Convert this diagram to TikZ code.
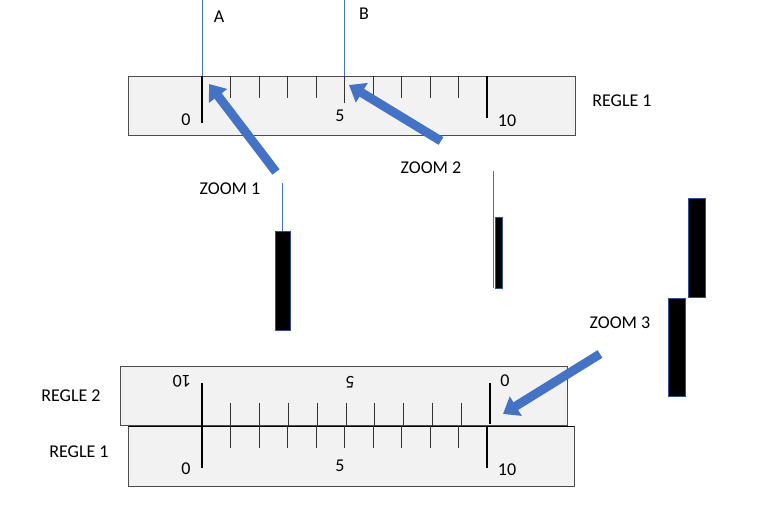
\documentclass[tikz,border=0pt]{standalone}
\usepackage{fontspec}
\setmainfont{Carlito}
\usetikzlibrary{arrows.meta}
\definecolor{zoomblue}{RGB}{68,114,196}
\definecolor{rulergray}{RGB}{242,242,242}
\definecolor{edgeblue}{RGB}{47,82,143}
\begin{document}
\begin{tikzpicture}[x=1pt,y=-1pt]
\tikzstyle{every node}+=[inner sep=0pt,font=\fontsize{18}{20}\selectfont]
\tikzset{ruler/.style={draw=black!70,fill=rulergray,line width=0.8pt},
  tick/.style={black!80,line width=0.8pt},
  major/.style={black,line width=1.8pt},
  hair/.style={zoomblue,line width=0.6pt},
  bar/.style={draw=edgeblue,fill=black,line width=0.8pt},
  zoomarrow/.style={line width=9pt,zoomblue,-{Triangle[width=22pt,length=15pt]}}}
\useasboundingbox (0,0) rectangle (780,516);
% regle 1 (haut)
\draw [ruler] (128,76) rectangle (575,135);
\draw [major] (202,76) -- (202,123);
\draw [major] (487,76) -- (487,118);
\foreach \i in {1,...,9}
  \draw [tick] (202+28.5*\i,76) -- (202+28.5*\i,98);
\draw [tick] (344.5,76) -- (344.5,103);
\node (t0) at (186,120) {0};
\node (t5) at (340,116) {5};
\node (t10) at (507,121) {10};
\node (r1) at (622,101) {REGLE 1};
% traits A et B
\coordinate (A) at (202,76);
\coordinate (B) at (344,76);
\draw [hair] (202,0) -- (A);
\draw [hair] (344,0) -- (B);
\node (la) at (219,17) {A};
\node (lb) at (364,14) {B};
% zooms
\node (z1) at (230,189) {ZOOM 1};
\node (z2) at (431,168) {ZOOM 2};
\node (z3) at (620,323) {ZOOM 3};
\coordinate (s1) at (276,172);
\coordinate (e1) at (209,84);
\coordinate (s2) at (441,141);
\coordinate (e2) at (349,85);
\coordinate (s3) at (600,354);
\coordinate (e3) at (503,414);
\draw [hair] (282,183) -- (282,231);
\draw [bar] (275,231) rectangle (290,330);
\draw [hair] (493,171) -- (493,288);
\draw [bar] (495,217) rectangle (502,288);
\draw [bar] (688,198) rectangle (705,297);
\draw [bar] (668,298) rectangle (685,396);
% regle 2 + regle 1 (bas)
\draw [ruler] (120,366) rectangle (567,425);
\draw [ruler] (128,426) rectangle (574,486);
\draw [major] (202,383) -- (202,426);
\draw [major] (490,383) -- (490,424);
\foreach \i in {1,...,9}
  \draw [tick] (202+28.8*\i,403) -- (202+28.8*\i,426);
\draw [black,line width=1pt] (128,426) -- (574,426);
\draw [major] (202,426) -- (202,468);
\draw [major] (487,426) -- (487,468);
\foreach \i in {1,...,9}
  \draw [tick] (202+28.5*\i,426) -- (202+28.5*\i,448);
\node [rotate=180] (u10) at (182,381) {10};
\node [rotate=180] (u5) at (350,382) {5};
\node (u0) at (505,381) {0};
\node (b0) at (186,469) {0};
\node (b5) at (340,466) {5};
\node (b10) at (507,470) {10};
\node (r2) at (71,396) {REGLE 2};
\node (r1b) at (79,452) {REGLE 1};
% fleches
\draw [zoomarrow] (s1) -- (e1);
\draw [zoomarrow] (s2) -- (e2);
\draw [zoomarrow] (s3) -- (e3);
\end{tikzpicture}
\end{document}
